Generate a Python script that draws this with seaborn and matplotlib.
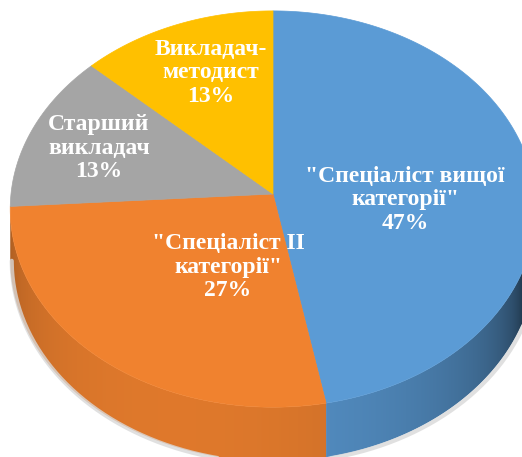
import numpy as np
import matplotlib
matplotlib.use("Agg")
import matplotlib.pyplot as plt
from matplotlib.patches import Polygon
import seaborn as sns

# data
categories = ['"Спеціаліст вищої\nкатегорії"', '"Спеціаліст II\nкатегорії"',
              'Старший\nвикладач', 'Викладач-\nметодист']
shares = [47, 27, 13, 13]
colors = ['#5B9BD5', '#F0822F', '#A5A5A5', '#FFC000']

sns.set_theme(style="white")
plt.rcParams['font.family'] = ['Liberation Serif', 'DejaVu Serif']

# geometry of the tilted pie (pixels)
cx, cy = 273, 194
rx, ry = 262, 197
k = 0.076
depth = 50

def proj(theta, drop=0.0):
    c, s = np.cos(theta), np.sin(theta)
    sc = 1.0 / (1.0 + k * c)
    return cx + rx * s * sc, cy - ry * c * sc + drop * sc

def shade(col, theta):
    f = np.clip(np.cos(theta - np.deg2rad(200)), 0, 1) ** 0.4
    rgb = np.array(matplotlib.colors.to_rgb(col))
    return np.outer(0.15 + 0.78 * f, rgb)

fig = plt.figure(figsize=(5.22, 4.57), dpi=100)
ax = fig.add_axes([0, 0, 1, 1])

frac = np.array(shares) / np.sum(shares)
edges = np.concatenate([[0], np.cumsum(frac)]) * 2 * np.pi

# front (visible) part of the side wall
grid = np.linspace(0, 2 * np.pi, 4000)
gx, _ = proj(grid)
t_right = grid[np.argmax(gx)]
t_left = grid[np.argmin(gx)]
tt = np.linspace(t_right, t_left, 2000)
xx, _ = proj(tt)
xs_img = np.arange(0, 523) + 0.5
theta_of_x = np.interp(xs_img, xx[::-1], tt[::-1])

# soft shadow under the outer rim
sh_t = np.linspace(t_right - 0.3, t_left, 300)
sx, sy = proj(sh_t, depth)
ax.plot(sx + 1.5, sy + 1.5, color='#d9d9d9', lw=3, alpha=0.8, solid_capstyle='round')

# side wall, shaded by horizontal position
for i in range(len(shares)):
    a, b = max(edges[i], t_right), min(edges[i + 1], t_left)
    if a >= b:
        continue
    t = np.linspace(a, b, 200)
    x1, y1 = proj(t)
    x2, y2 = proj(t[::-1], depth)
    patch = Polygon(np.c_[np.r_[x1, x2], np.r_[y1, y2]], closed=True,
                    fc='none', ec='none')
    ax.add_patch(patch)
    img = shade(colors[i], theta_of_x)[None, :, :]
    im = ax.imshow(img, extent=[0, 523, 457, 0], aspect='auto',
                   interpolation='bilinear')
    im.set_clip_path(patch)

# top face
for i in range(len(shares)):
    t = np.linspace(edges[i], edges[i + 1], 200)
    px, py = proj(t)
    ax.fill(np.r_[cx, px], np.r_[cy, py], color=colors[i], lw=0.5, ec=colors[i])

# labels
label_pos = [(405, 200), (228, 267), (99, 148), (211, 73)]
for name, v, (lx, ly) in zip(categories, shares, label_pos):
    ax.text(lx, ly, f"{name}\n{v}%", ha='center', va='center', color='white',
            fontsize=17, fontweight='bold', linespacing=1.15)

ax.set_xlim(0, 522)
ax.set_ylim(457, 0)
ax.axis('off')
fig.savefig("out.png", dpi=100)
